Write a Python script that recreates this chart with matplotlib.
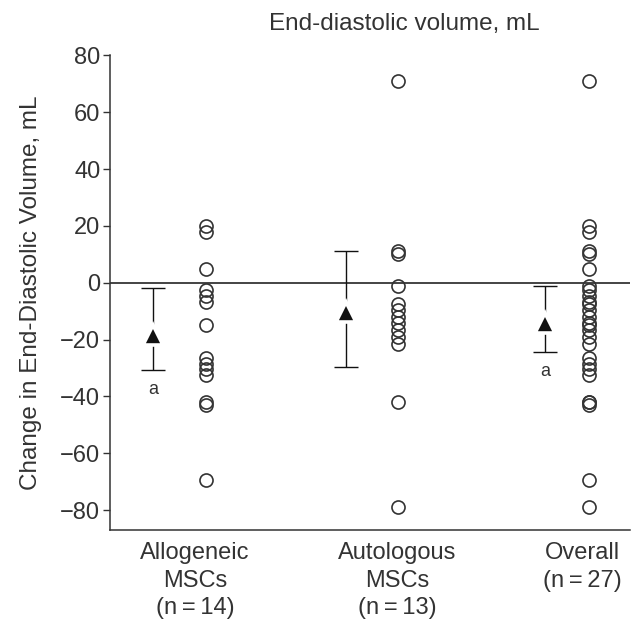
import matplotlib
matplotlib.use("Agg")
import matplotlib.pyplot as plt

plt.rcParams['font.family'] = ['Liberation Sans', 'DejaVu Sans']

# change in end-diastolic volume per patient, mL
allogeneic = [20, 18, 5, -2.5, -4.5, -6.7, -15, -26.5, -28.5, -30.5, -32.5, -42, -43, -69.5]
autologous = [71, 11, 10, -1, -7.5, -9.5, -12, -14, -16.5, -19, -21.5, -42, -79]
overall = allogeneic + autologous

groups = [allogeneic, autologous, overall]
labels = ["Allogeneic\nMSCs\n(n\u2009=\u200914)", "Autologous\nMSCs\n(n\u2009=\u200913)",
          "Overall\n(n\u2009=\u200927)"]

# mean and error-bar limits (triangles)
means = [-18.3, -10.2, -14]
err_low = [-30.6, -29.6, -24.3]
err_high = [-1.8, 11, -1]
sig = ["a", "", "a"]

ink = "#333333"
fig = plt.figure(figsize=(6.36, 6.37), dpi=100)
ax = fig.add_axes([0.173, 0.168, 0.817, 0.745])

pos = [0, 1, 2]
tri_off = [-0.275, -0.27, -0.23]
for i, vals in enumerate(groups):
    ax.plot([pos[i]] * len(vals), vals, "o", ms=9.4, mfc="none", mec=ink, mew=1.2, zorder=3)
    xm = pos[i] + tri_off[i]
    ax.errorbar([xm], [means[i]], yerr=[[means[i] - err_low[i]], [err_high[i] - means[i]]],
                fmt="none", ecolor="#111111", elinewidth=1.0, capsize=8.5, capthick=1.0, zorder=2)
    ax.plot([xm], [means[i]], "^", ms=14.5, color="#111111", mec="white", mew=2.6, zorder=4)
    if sig[i]:
        ax.text(xm, err_low[i] - 7, sig[i], ha="center", va="center", fontsize=13, color=ink)

ax.axhline(0, color="#111111", lw=1.1, zorder=1)

ax.set_xlim(-0.5, 2.21)
ax.set_ylim(-87, 80)
ax.set_yticks(range(-80, 81, 20))
ax.set_yticklabels(["\u2212%d" % -v if v < 0 else str(v) for v in range(-80, 81, 20)])
ax.set_xticks([-0.057, 1.0, 1.964])
ax.set_xticklabels(labels, linespacing=1.3)

for s in ["top", "right"]:
    ax.spines[s].set_visible(False)
for s in ["left", "bottom"]:
    ax.spines[s].set_color(ink)
    ax.spines[s].set_linewidth(1.1)
ax.spines["left"].set_bounds(-87, 80)
ax.tick_params(axis="y", direction="out", length=5, width=1.0, color=ink,
               labelsize=17, labelcolor=ink, pad=2)
ax.tick_params(axis="x", length=0, labelsize=17, labelcolor=ink, pad=9)

ax.set_ylabel("Change in End-Diastolic Volume, mL", fontsize=17.5, color=ink, labelpad=13)
fig.text(0.635, 0.963, "End-diastolic volume, mL", ha="center", va="center", fontsize=17.5, color=ink)

fig.savefig("out.png", dpi=100)
